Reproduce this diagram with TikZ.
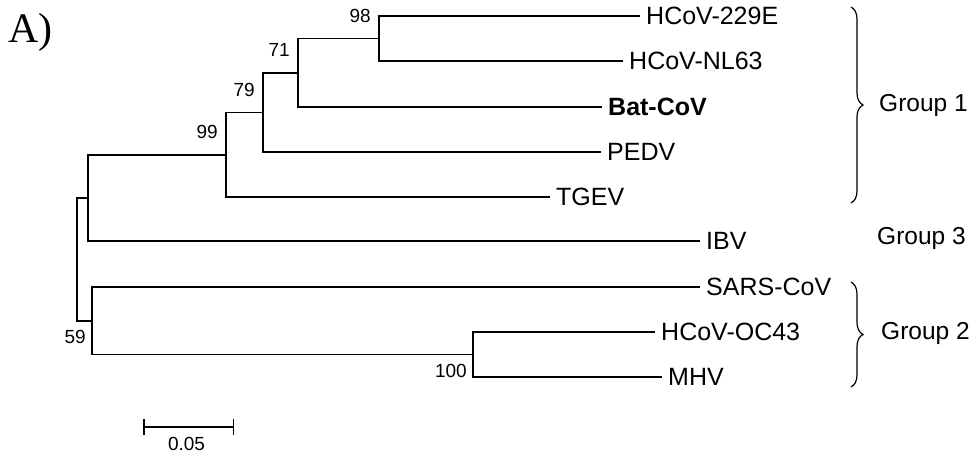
\documentclass[tikz,border=0pt]{standalone}
\usepackage{fontspec}
\setmainfont{Liberation Sans}
\newfontfamily\panelfont{Liberation Serif}
\usetikzlibrary{arrows.meta,positioning,decorations.pathreplacing}

\begin{document}
\begin{tikzpicture}[x=1pt, y=-1pt,
  branch/.style={line width=1.7pt},
  leaf/.style={anchor=west, inner xsep=6pt, inner ysep=0pt, font=\fontsize{25}{30}\selectfont},
  boot/.style={inner sep=0pt, font=\fontsize{19}{22}\selectfont},
  grp/.style={anchor=west, inner sep=0pt, font=\fontsize{24.5}{30}\selectfont},
  bracket/.style={decorate, decoration={brace, amplitude=12pt}, line width=1.2pt}]
\useasboundingbox (0,0) rectangle (973,457);
% panel letter
\node[anchor=base west, inner sep=0pt, font=\panelfont\fontsize{42}{50}\selectfont] (panel) at (8,43) {A)};
% leaves (taxa)
\node[leaf] (hcov229e) at (640,16) {HCoV-229E};
\node[leaf] (hcovnl63) at (623,61) {HCoV-NL63};
\node[leaf] (batcov) at (602,107) {\bfseries Bat-CoV};
\node[leaf] (pedv) at (601,152) {PEDV};
\node[leaf] (tgev) at (550,197) {TGEV};
\node[leaf] (ibv) at (700,241) {IBV};
\node[leaf] (sarscov) at (700,287) {SARS-CoV};
\node[leaf] (hcovoc43) at (655,332) {HCoV-OC43};
\node[leaf] (mhv) at (662,377) {MHV};
% internal nodes of the tree
\coordinate (n98) at (379,38.5);
\coordinate (n71) at (298,72.75);
\coordinate (n79) at (263,112.4);
\coordinate (n99) at (226,154.7);
\coordinate (n13) at (88,197.9);
\coordinate (n100) at (473,354.5);
\coordinate (n59) at (92,320.75);
\coordinate (root) at (77,259.3);
% branches, group 1 and 3
\draw[branch] (n98) |- (hcov229e.west);
\draw[branch] (n98) |- (hcovnl63.west);
\draw[branch] (n71) |- (n98);
\draw[branch] (n71) |- (batcov.west);
\draw[branch] (n79) |- (n71);
\draw[branch] (n79) |- (pedv.west);
\draw[branch] (n99) |- (n79);
\draw[branch] (n99) |- (tgev.west);
\draw[branch] (n13) |- (n99);
\draw[branch] (n13) |- (ibv.west);
% branches, group 2
\draw[branch] (n100) |- (hcovoc43.west);
\draw[branch] (n100) |- (mhv.west);
\draw[branch] (n59) |- (sarscov.west);
\draw[branch] (n59) |- (n100);
% root
\draw[branch] (root) |- (n13);
\draw[branch] (root) |- (n59);
% bootstrap values
\node[boot, left=8pt of n98, yshift=22.5pt] (b98) {98};
\node[boot, left=8pt of n71, yshift=22.5pt] (b71) {71};
\node[boot, left=8pt of n79, yshift=22.5pt] (b79) {79};
\node[boot, left=8pt of n99, yshift=22.5pt] (b99) {99};
\node[boot, left=6pt of n59, yshift=-16.5pt] (b59) {59};
\node[boot, left=6pt of n100, yshift=-16.5pt] (b100) {100};
% groups
\draw[bracket] (851,7) -- (851,203);
\node[grp] (grp1) at (879,105) {Group 1};
\node[grp] (grp3) at (877,238) {Group 3};
\draw[bracket] (851,282) -- (851,387);
\node[grp] (grp2) at (881,333) {Group 2};
% scale bar
\coordinate (sbl) at (143,427);
\coordinate (sbr) at (234,427);
\draw[branch, line width=1.5pt, {Bar[width=16pt]}-{Bar[width=16pt]}] (sbl) -- (sbr);
\node[boot, below=10pt of sbl, anchor=north, xshift=43.5pt] (sblabel) {0.05};
\end{tikzpicture}
\end{document}
